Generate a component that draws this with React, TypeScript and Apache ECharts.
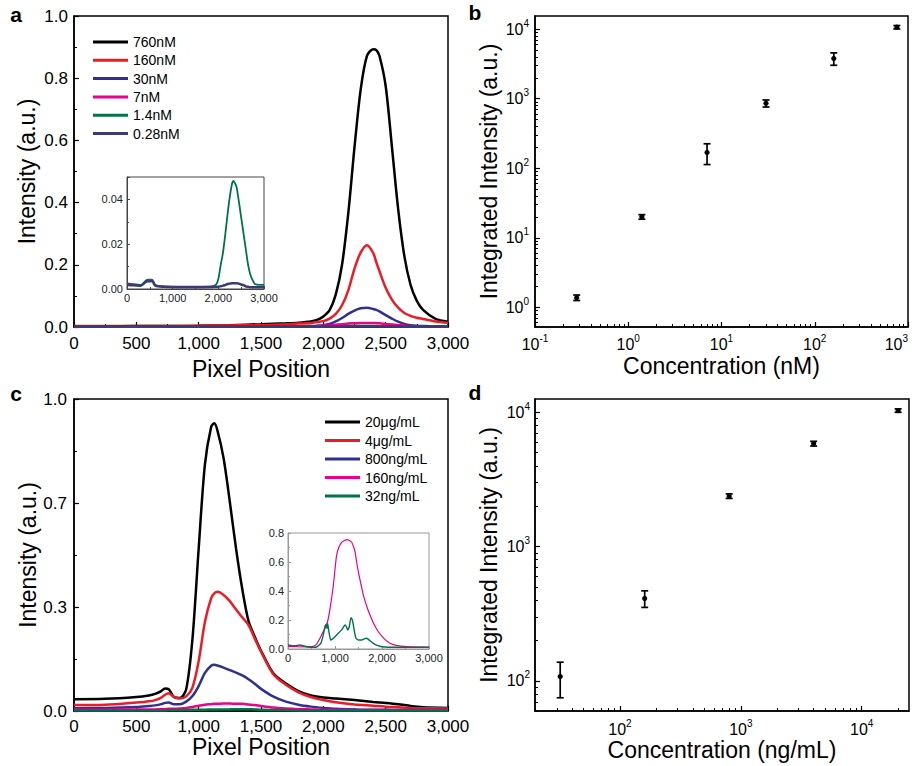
import React, { useEffect, useRef } from 'react';
import * as echarts from 'echarts';

// ---------- Panel a (main) ----------
const xA = [0, 250, 500, 750, 1000, 1250, 1500, 1700, 1800, 1900, 1950, 2000, 2050, 2100, 2150, 2200, 2250, 2300, 2350, 2400, 2425, 2450, 2500, 2550, 2600, 2650, 2700, 2750, 2800, 2900, 3000];
const a760 = [0.002, 0.002, 0.003, 0.003, 0.004, 0.006, 0.009, 0.012, 0.014, 0.018, 0.023, 0.034, 0.054, 0.105, 0.2, 0.365, 0.578, 0.765, 0.872, 0.893, 0.89, 0.872, 0.775, 0.58, 0.38, 0.228, 0.135, 0.084, 0.055, 0.026, 0.017];
const a160 = [0.003, 0.003, 0.003, 0.003, 0.004, 0.005, 0.006, 0.009, 0.011, 0.013, 0.016, 0.019, 0.027, 0.042, 0.07, 0.118, 0.188, 0.24, 0.263, 0.238, 0.208, 0.18, 0.126, 0.088, 0.062, 0.045, 0.036, 0.03, 0.026, 0.018, 0.014];
const a30 = [0.002, 0.002, 0.002, 0.002, 0.002, 0.002, 0.002, 0.002, 0.002, 0.003, 0.004, 0.006, 0.01, 0.018, 0.029, 0.042, 0.053, 0.06, 0.062, 0.058, 0.055, 0.05, 0.038, 0.027, 0.017, 0.01, 0.006, 0.004, 0.003, 0.002, 0.002];
const a7 = [0.001, 0.001, 0.001, 0.001, 0.001, 0.001, 0.0015, 0.002, 0.002, 0.002, 0.003, 0.004, 0.005, 0.007, 0.009, 0.011, 0.012, 0.013, 0.013, 0.013, 0.0125, 0.012, 0.01, 0.008, 0.006, 0.004, 0.003, 0.002, 0.002, 0.002, 0.002];
const a14 = [0.001, 0.001, 0.0015, 0.001, 0.001, 0.001, 0.001, 0.001, 0.001, 0.001, 0.001, 0.0012, 0.0015, 0.002, 0.0025, 0.003, 0.0032, 0.0034, 0.0034, 0.0032, 0.003, 0.0028, 0.0024, 0.002, 0.0016, 0.0013, 0.0011, 0.001, 0.001, 0.001, 0.001];
const a028 = [0.002, 0.002, 0.0025, 0.002, 0.002, 0.002, 0.002, 0.002, 0.002, 0.002, 0.002, 0.002, 0.002, 0.002, 0.002, 0.002, 0.002, 0.002, 0.002, 0.002, 0.002, 0.002, 0.002, 0.002, 0.002, 0.002, 0.002, 0.002, 0.002, 0.002, 0.002];

// ---------- Panel a (inset) ----------
const xInA = [0, 150, 300, 400, 450, 550, 620, 800, 1100, 1500, 1850, 1950, 2000, 2050, 2100, 2150, 2200, 2250, 2300, 2330, 2370, 2400, 2450, 2500, 2550, 2600, 2650, 2700, 2750, 2800, 2900, 3000];
const inA14 = [0.0025, 0.0022, 0.0018, 0.0035, 0.0042, 0.0042, 0.0018, 0.0012, 0.001, 0.001, 0.0012, 0.002, 0.0045, 0.0105, 0.016, 0.024, 0.033, 0.041, 0.047, 0.0483, 0.047, 0.0455, 0.039, 0.032, 0.025, 0.018, 0.011, 0.0065, 0.004, 0.0022, 0.0018, 0.0018];
const inA028 = [0.0018, 0.0017, 0.0015, 0.003, 0.0035, 0.0035, 0.0015, 0.001, 0.0008, 0.0008, 0.0009, 0.001, 0.001, 0.0012, 0.0015, 0.0018, 0.0022, 0.0024, 0.0026, 0.0026, 0.0026, 0.0026, 0.0024, 0.002, 0.0017, 0.0012, 0.001, 0.0008, 0.0008, 0.0008, 0.0008, 0.0008];

// ---------- Panel c (main) ----------
const xC = [0, 250, 500, 600, 650, 700, 730, 760, 800, 850, 900, 950, 1000, 1050, 1100, 1125, 1150, 1200, 1250, 1300, 1350, 1400, 1450, 1500, 1600, 1700, 1800, 1900, 2000, 2100, 2250, 2400, 2500, 2600, 2700, 2800, 3000];
const c20u = [0.038, 0.039, 0.045, 0.05, 0.055, 0.064, 0.072, 0.07, 0.046, 0.042, 0.07, 0.23, 0.52, 0.79, 0.91, 0.922, 0.9, 0.81, 0.67, 0.52, 0.39, 0.288, 0.238, 0.193, 0.12, 0.088, 0.064, 0.05, 0.043, 0.04, 0.035, 0.029, 0.026, 0.022, 0.016, 0.012, 0.01];
const c4u = [0.019, 0.02, 0.027, 0.031, 0.035, 0.043, 0.052, 0.057, 0.045, 0.04, 0.047, 0.075, 0.16, 0.285, 0.362, 0.377, 0.382, 0.372, 0.352, 0.325, 0.3, 0.275, 0.232, 0.19, 0.117, 0.084, 0.06, 0.045, 0.035, 0.028, 0.021, 0.017, 0.014, 0.012, 0.01, 0.009, 0.008];
const c800n = [0.009, 0.01, 0.013, 0.016, 0.018, 0.022, 0.026, 0.027, 0.022, 0.022, 0.03, 0.048, 0.08, 0.122, 0.145, 0.148, 0.146, 0.139, 0.131, 0.123, 0.114, 0.102, 0.087, 0.071, 0.046, 0.03, 0.02, 0.014, 0.01, 0.007, 0.005, 0.004, 0.004, 0.003, 0.003, 0.003, 0.003];
const c160n = [0.004, 0.004, 0.005, 0.005, 0.005, 0.006, 0.006, 0.007, 0.007, 0.008, 0.01, 0.013, 0.017, 0.02, 0.022, 0.023, 0.023, 0.024, 0.024, 0.023, 0.023, 0.021, 0.019, 0.016, 0.011, 0.008, 0.006, 0.005, 0.004, 0.004, 0.003, 0.003, 0.003, 0.003, 0.003, 0.003, 0.003];
const c32n = [0.002, 0.002, 0.002, 0.002, 0.002, 0.002, 0.002, 0.003, 0.003, 0.003, 0.003, 0.004, 0.004, 0.004, 0.005, 0.005, 0.005, 0.005, 0.005, 0.006, 0.006, 0.006, 0.005, 0.004, 0.003, 0.003, 0.002, 0.002, 0.002, 0.002, 0.002, 0.002, 0.002, 0.002, 0.002, 0.002, 0.002];

// ---------- Panel c (inset) ----------
const xInC160 = [0, 200, 400, 500, 600, 680, 750, 790, 850, 900, 965, 1000, 1035, 1080, 1142, 1200, 1250, 1300, 1355, 1400, 1426, 1460, 1496, 1550, 1603, 1680, 1745, 1830, 1922, 2050, 2170, 2300, 2525, 2800, 3000];
const inC160 = [0.018, 0.016, 0.015, 0.016, 0.03, 0.074, 0.12, 0.143, 0.2, 0.29, 0.44, 0.55, 0.648, 0.7, 0.735, 0.748, 0.755, 0.75, 0.736, 0.7, 0.671, 0.6, 0.533, 0.45, 0.372, 0.29, 0.234, 0.17, 0.119, 0.07, 0.039, 0.025, 0.016, 0.013, 0.012];
const xInC32 = [0, 150, 250, 350, 470, 610, 700, 752, 790, 816, 830, 844, 870, 908, 950, 1000, 1071, 1150, 1213, 1240, 1270, 1300, 1340, 1365, 1390, 1420, 1447, 1500, 1567, 1620, 1674, 1750, 1816, 1900, 2000, 2300, 2600, 3000];
const inC32 = [0.028, 0.022, 0.028, 0.02, 0.012, 0.014, 0.04, 0.1, 0.16, 0.17, 0.14, 0.177, 0.12, 0.062, 0.07, 0.085, 0.108, 0.135, 0.166, 0.155, 0.131, 0.15, 0.216, 0.205, 0.166, 0.11, 0.074, 0.062, 0.062, 0.07, 0.074, 0.055, 0.039, 0.025, 0.016, 0.012, 0.012, 0.012];

// ---------- Panel b ----------
const concB = [0.28, 1.4, 7, 30, 160, 760];
const intB = [1.37, 20, 168, 860, 3800, 10700];
const lowB = [1.25, 18.5, 113, 760, 3030, 10100];
const highB = [1.5, 21.5, 225, 960, 4570, 11300];

// ---------- Panel d ----------
const concD = [32, 160, 800, 4000, 20000];
const intD = [108, 412, 2370, 5850, 10300];
const lowD = [75, 353, 2285, 5610, 10000];
const highD = [138, 469, 2470, 6080, 10600];

// ---------- tick labels ----------
const majorBx = [0.1, 1, 10, 100, 1000];
const majorBy = [1, 10, 100, 1000, 10000];
const majorDx = [100, 1000, 10000];
const majorDy = [100, 1000, 10000];

const legendA = ['760nM', '160nM', '30nM', '7nM', '1.4nM', '0.28nM'];
const legendC = ['20\u03bcg/mL', '4\u03bcg/mL', '800ng/mL', '160ng/mL', '32ng/mL'];

const FONT = 'Liberation Sans, Arial, Helvetica, sans-serif';
const BLACK = '#000000';
const RED = '#ed1c24';
const BLUE = '#2e3192';
const PINK = '#ec008c';
const GREEN = '#00734a';
const NAVY = '#3c3a74';

function logMinor(lo: number, hi: number): number[] {
  const out: number[] = [];
  for (let e = -2; e <= 5; e++) {
    const p = Math.pow(10, e);
    for (let m = 2; m <= 9; m++) {
      const v = +(m * p).toPrecision(6);
      if (v >= lo && v <= hi) out.push(v);
    }
  }
  return out;
}

const zip = (xs: number[], ys: number[]) => xs.map((x, i) => [x, ys[i]]);
const comma = (v: number) => (v === 0 ? '0' : Math.round(v).toLocaleString('en-US'));
const supFmt = (v: number) => `{b|10}{s|${Math.round(Math.log10(v))}}`;
const supRich = {
  b: { fontSize: 16, lineHeight: 22, color: '#000', fontFamily: FONT },
  s: { fontSize: 10, lineHeight: 10, verticalAlign: 'top', color: '#000', fontFamily: FONT },
};

const axisLineMain = { show: true, onZero: false, lineStyle: { color: '#000', width: 1.5 } };
const tickMain = { show: true, inside: true, length: 5, lineStyle: { color: '#000', width: 1.2 } };
const minorMain = { show: true, splitNumber: 2, length: 3, lineStyle: { color: '#000', width: 1 } };
const nameStyle = { fontSize: 23, color: '#000', fontFamily: FONT };

function linAxis(grid: number, min: number, max: number, interval: number, fmt: any, name: string, nameGap: number, margin: number, extra: any = {}) {
  return {
    gridIndex: grid, type: 'value', min, max, interval,
    axisLine: axisLineMain, axisTick: tickMain, minorTick: minorMain,
    splitLine: { show: false }, minorSplitLine: { show: false },
    axisLabel: { fontSize: 17, color: '#000', fontFamily: FONT, margin, formatter: fmt, showMaxLabel: true },
    name, nameLocation: 'middle', nameGap, nameTextStyle: nameStyle,
    ...extra,
  };
}

function logAxis(grid: number, min: number, max: number, majors: number[], name: string, nameGap: number, margin: number, extra: any = {}, labelExtra: any = {}) {
  return {
    gridIndex: grid, type: 'log', logBase: 10, min, max,
    axisLine: axisLineMain,
    axisTick: { ...tickMain, customValues: majors },
    splitLine: { show: false },
    axisLabel: { customValues: majors, formatter: supFmt, rich: supRich, margin, color: '#000', ...labelExtra },
    name, nameLocation: 'middle', nameGap, nameTextStyle: nameStyle,
    ...extra,
  };
}

function minorLogAxis(grid: number, min: number, max: number, position: string) {
  return {
    gridIndex: grid, type: 'log', logBase: 10, min, max, position,
    axisLine: { show: false },
    axisTick: { show: true, inside: true, length: 3, lineStyle: { color: '#000', width: 1 }, customValues: logMinor(min, max) },
    axisLabel: { show: false },
    splitLine: { show: false },
  };
}

function insetAxis(grid: number, min: number, max: number, interval: number, fmt: any, color: string, margin: number, extra: any = {}) {
  return {
    gridIndex: grid, type: 'value', min, max, interval,
    axisLine: { show: true, onZero: false, lineStyle: { color, width: 1 } },
    axisTick: { show: true, inside: true, length: 3, lineStyle: { color, width: 1 } },
    minorTick: { show: true, splitNumber: 2, length: 2, lineStyle: { color, width: 1 } },
    splitLine: { show: false },
    axisLabel: { fontSize: 11, color: '#222', fontFamily: FONT, margin, formatter: fmt, showMaxLabel: false },
    ...extra,
  };
}

function lineSeries(name: string, xs: number[], ys: number[], color: string, xi: number, yi: number, width: number, smooth: number = 0.3) {
  return {
    type: 'line', name, data: zip(xs, ys), xAxisIndex: xi, yAxisIndex: yi,
    showSymbol: false, symbol: 'none', smooth, color,
    lineStyle: { color, width }, silent: true, clip: true,
  };
}

function errSeries(xs: number[], ys: number[], lo: number[], hi: number[], xi: number, yi: number) {
  return {
    type: 'custom', xAxisIndex: xi, yAxisIndex: yi, silent: true,
    data: xs.map((x, i) => [x, ys[i], lo[i], hi[i]]),
    encode: { x: 0, y: 1 },
    renderItem: (params: any, api: any) => {
      const p = api.coord([api.value(0), api.value(1)]);
      const pl = api.coord([api.value(0), api.value(2)]);
      const ph = api.coord([api.value(0), api.value(3)]);
      const st = { stroke: '#000', lineWidth: 1.7 };
      const cap = 3.5;
      return {
        type: 'group',
        children: [
          { type: 'line', shape: { x1: p[0], y1: pl[1], x2: p[0], y2: ph[1] }, style: st },
          { type: 'line', shape: { x1: p[0] - cap, y1: pl[1], x2: p[0] + cap, y2: pl[1] }, style: st },
          { type: 'line', shape: { x1: p[0] - cap, y1: ph[1], x2: p[0] + cap, y2: ph[1] }, style: st },
          { type: 'circle', shape: { cx: p[0], cy: p[1], r: 2.6 }, style: { fill: '#000' } },
        ],
      };
    },
  };
}

const gridBase = { show: true, borderColor: '#000', borderWidth: 1.5, outerBoundsMode: 'none', containLabel: false };

export default function App() {
  const ref = useRef<HTMLDivElement>(null);
  useEffect(() => {
    if (!ref.current) return;
    const chart = echarts.init(ref.current, undefined, { renderer: 'svg' });
    const option: any = {
      animation: false,
      textStyle: { fontFamily: FONT },
      backgroundColor: '#ffffff',
      grid: [
        { ...gridBase, left: 74, top: 16, width: 374, height: 311 },
        { ...gridBase, left: 535, top: 16, width: 373, height: 311 },
        { ...gridBase, left: 74, top: 399, width: 374, height: 312 },
        { ...gridBase, left: 535, top: 399, width: 374, height: 312 },
        { ...gridBase, left: 127, top: 177, width: 137, height: 112, borderColor: '#444', borderWidth: 1, backgroundColor: '#fff' },
        { ...gridBase, left: 288, top: 533, width: 141, height: 116, borderColor: '#999', borderWidth: 1, backgroundColor: '#fff' },
      ],
      xAxis: [
        linAxis(0, 0, 3000, 500, comma, 'Pixel Position', 30, 8),
        logAxis(1, 0.1, 1000, majorBx, 'Concentration (nM)', 27, 6, { position: 'bottom' }, { alignMaxLabel: 'right' }),
        minorLogAxis(1, 0.1, 1000, 'bottom'),
        linAxis(2, 0, 3000, 500, comma, 'Pixel Position', 24, 7),
        logAxis(3, 19.8, 24600, majorDx, 'Concentration (ng/mL)', 27, 7, { position: 'bottom' }),
        minorLogAxis(3, 19.8, 24600, 'bottom'),
        insetAxis(4, 0, 3000, 1000, comma, '#444', 3, { axisLabel: { fontSize: 11, color: '#222', fontFamily: FONT, margin: 3, formatter: comma, showMaxLabel: true } }),
        insetAxis(5, 0, 3000, 1000, comma, '#999', 3, { axisLabel: { fontSize: 11, color: '#222', fontFamily: FONT, margin: 3, formatter: comma, showMaxLabel: true } }),
      ],
      yAxis: [
        linAxis(0, 0, 1, 0.2, (v: number) => v.toFixed(1), 'Intensity (a.u.)', 36, 6),
        logAxis(1, 0.52, 15500, majorBy, 'Integrated Intensity (a.u.)', 35, 6, { position: 'left' }),
        minorLogAxis(1, 0.52, 15500, 'left'),
        linAxis(2, 0, 1, 1 / 3, (v: number) => v.toFixed(1), 'Intensity (a.u.)', 35, 7),
        logAxis(3, 59.8, 12560, majorDy, 'Integrated Intensity (a.u.)', 35, 5, { position: 'left' }),
        minorLogAxis(3, 59.8, 12560, 'left'),
        insetAxis(4, 0, 0.05, 0.02, (v: number) => v.toFixed(2), '#444', 4),
        insetAxis(5, 0, 0.8, 0.2, (v: number) => v.toFixed(1), '#999', 4, { axisLabel: { fontSize: 11, color: '#222', fontFamily: FONT, margin: 4, formatter: (v: number) => v.toFixed(1), showMaxLabel: true } }),
      ],
      legend: [
        {
          data: legendA, left: 93, top: 34, orient: 'vertical', icon: 'rect', itemWidth: 35, itemHeight: 3,
          itemGap: 2.3, padding: 0, selectedMode: false,
          textStyle: { fontSize: 14, color: '#000', fontFamily: FONT, lineHeight: 16 },
        },
        {
          data: legendC, left: 325, top: 414, orient: 'vertical', icon: 'rect', itemWidth: 35, itemHeight: 3,
          itemGap: 2.5, padding: 0, selectedMode: false,
          textStyle: { fontSize: 14, color: '#000', fontFamily: FONT, lineHeight: 16 },
        },
      ],
      graphic: [
        { type: 'text', x: 16, y: 14, style: { text: 'a', font: `bold 21px ${FONT}`, fill: '#000', align: 'center', verticalAlign: 'middle' } },
        { type: 'text', x: 475, y: 12.5, style: { text: 'b', font: `bold 21px ${FONT}`, fill: '#000', align: 'center', verticalAlign: 'middle' } },
        { type: 'text', x: 16, y: 393, style: { text: 'c', font: `bold 21px ${FONT}`, fill: '#000', align: 'center', verticalAlign: 'middle' } },
        { type: 'text', x: 475, y: 392.5, style: { text: 'd', font: `bold 21px ${FONT}`, fill: '#000', align: 'center', verticalAlign: 'middle' } },
      ],
      series: [
        lineSeries('760nM', xA, a760, BLACK, 0, 0, 2.5),
        lineSeries('160nM', xA, a160, RED, 0, 0, 2.5),
        lineSeries('30nM', xA, a30, BLUE, 0, 0, 2.5),
        lineSeries('7nM', xA, a7, PINK, 0, 0, 2.5),
        lineSeries('1.4nM', xA, a14, GREEN, 0, 0, 2.5),
        lineSeries('0.28nM', xA, a028, NAVY, 0, 0, 2.5),
        lineSeries('1.4nM (inset)', xInA, inA14, GREEN, 6, 6, 1.8, 0.25),
        lineSeries('0.28nM (inset)', xInA, inA028, NAVY, 6, 6, 2.5, 0.25),
        lineSeries('20\u03bcg/mL', xC, c20u, BLACK, 3, 3, 2.5),
        lineSeries('4\u03bcg/mL', xC, c4u, RED, 3, 3, 2.5),
        lineSeries('800ng/mL', xC, c800n, BLUE, 3, 3, 2.5),
        lineSeries('160ng/mL', xC, c160n, PINK, 3, 3, 2.5),
        lineSeries('32ng/mL', xC, c32n, GREEN, 3, 3, 2.5),
        lineSeries('160ng/mL (inset)', xInC160, inC160, PINK, 7, 7, 1.2, 0.25),
        lineSeries('32ng/mL (inset)', xInC32, inC32, GREEN, 7, 7, 1.4, 0.15),
        errSeries(concB, intB, lowB, highB, 1, 1),
        errSeries(concD, intD, lowD, highD, 4, 4),
      ],
    };
    chart.setOption(option);
    return () => chart.dispose();
  }, []);
  return <div ref={ref} style={{ position: 'absolute', left: 0, top: 0, width: 918, height: 766 }} />;
}
